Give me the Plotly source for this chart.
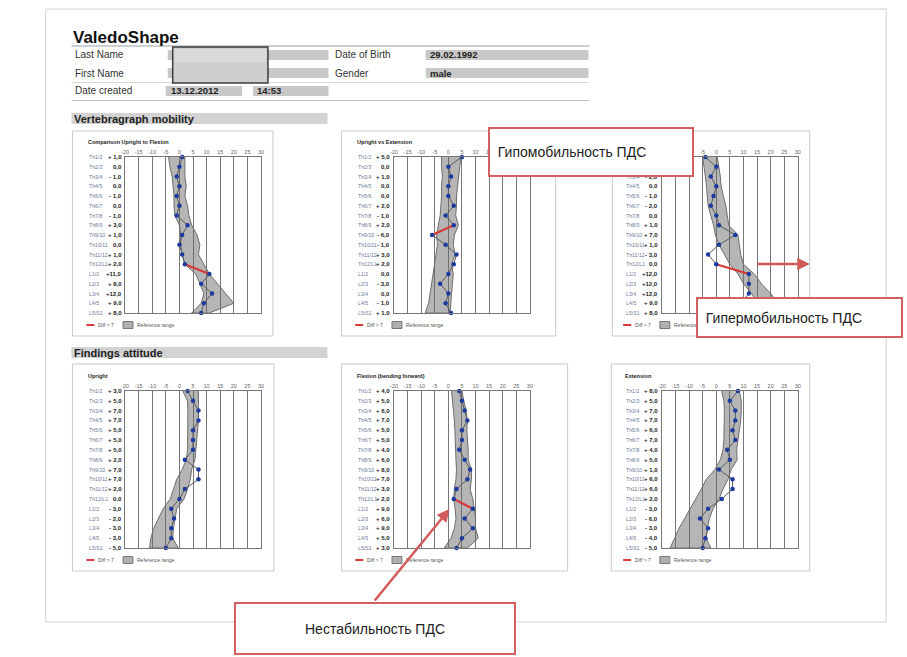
import plotly.graph_objects as go

W, H = 907, 657

# ---------------- data ----------------
SEGMENTS = ["Th1/2", "Th2/3", "Th3/4", "Th4/5", "Th5/6", "Th6/7", "Th7/8", "Th8/9",
            "Th9/10", "Th10/11", "Th11/12", "Th12/L1", "L1/2", "L2/3", "L3/4", "L4/5", "L5/S1"]
X_TICKS = [-20, -15, -10, -5, 0, 5, 10, 15, 20, 25, 30]
X_TICK_LABELS = ["-20", "-15", "-10", "-5", "0", "5", "10", "15", "20", "25", "30"]

CHART_TITLES = ["Comparison Upright to Flexion", "Upright vs Extension", "Flexion vs Extension",
                "Upright", "Flexion (bending forward)", "Extension"]

VALUES_1 = [1, 0, -1, 0, -1, 0, -1, 3, 1, 0, 1, 2, 11, 8, 12, 9, 8]
REF_LO_1 = [-4, -3.5, -2.7, -2.3, -2, -2, -1.7, 0, 0.5, 0.5, 1, 2, 6, 7.5, 9, 8, 4.5]
REF_HI_1 = [2, 2, 2, 2.5, 2, 3, 3.5, 4.5, 6.5, 7.5, 7, 9, 11, 14, 17, 20, 11]

VALUES_2 = [5, 0, 1, 0, 0, 2, -1, 2, -6, -1, 3, 2, 0, -3, 0, -1, 1]
REF_LO_2 = [-2.5, -2.5, -2.2, -2.5, -2.5, -2.7, -3, -3.7, -4.3, -4, -4.5, -5, -5.5, -6, -6.7, -7.3, -8.5]
REF_HI_2 = [4.6, 4.2, 3.7, 3.4, 3, 3, 2.7, 3.7, 2.2, 1.8, 2.5, 1.2, 1.8, 1.5, 1.2, 1, 0.6]

VALUES_3 = [-4, 0, -2, 0, -1, -2, 0, 1, 7, 1, -3, 0, 12, 12, 12, 9, 8]
REF_LO_3 = [-5, -4.4, -4, -3.6, -3.4, -3, -2, -1, -0.3, 1, 3, 5, 8, 10, 13, 15, 16]
REF_HI_3 = [0.4, 1, 1.5, 1.8, 2.6, 3.5, 4, 4.6, 8, 8.5, 9, 10, 14, 16.6, 20, 23, 22]

VALUES_4 = [3, 5, 7, 7, 5, 5, 5, 2, 7, 7, 2, 0, -3, -2, -3, -3, -5]
REF_LO_4 = [1.2, 3, 3.1, 3.1, 3, 3, 3, 2.5, 1, -1, -2.2, -3.4, -6, -7.7, -9.5, -10.5, -11]
REF_HI_4 = [7, 7, 7, 7, 6.7, 6.3, 6, 5.7, 4.5, 4, 3, 1.7, -1, -1.5, -2.2, -2.5, -0.4]

VALUES_5 = [4, 5, 6, 7, 5, 5, 4, 6, 8, 7, 3, 2, 9, 6, 9, 5, 3]
REF_LO_5 = [1.2, 1.6, 2, 2.2, 2.4, 2.5, 2.5, 2.8, 3, 2.8, 2.2, 2, 2.5, 2.8, 2.2, 1, -1.5]
REF_HI_5 = [5, 5.7, 6.5, 7, 6.8, 7, 7.3, 7.3, 8.5, 8.5, 8, 9, 9.5, 10, 10, 11, 7]

VALUES_6 = [8, 5, 7, 7, 6, 7, 4, 5, 1, 6, 6, 2, -3, -6, -3, -4, -5]
REF_LO_6 = [2, 2.8, 3, 3, 3, 2.8, 2.5, 1.5, -0.5, -3.7, -5.5, -7.5, -9.5, -11.6, -13.7, -15.3, -17]
REF_HI_6 = [8.5, 9.2, 9.2, 9, 8.5, 8, 7.5, 7.7, 5.5, 4.3, 2.5, 1, -1.2, -2.5, -3.3, -3.7, -2]

ALL_VALUES = [VALUES_1, VALUES_2, VALUES_3, VALUES_4, VALUES_5, VALUES_6]
ALL_LO = [REF_LO_1, REF_LO_2, REF_LO_3, REF_LO_4, REF_LO_5, REF_LO_6]
ALL_HI = [REF_HI_1, REF_HI_2, REF_HI_3, REF_HI_4, REF_HI_5, REF_HI_6]

DIFF_LIMIT = 7
LEGEND_LINE = "Diff > 7"
LEGEND_AREA = "Reference range"

REPORT_TITLE = "ValedoShape"
FIELD_LABELS = ["Last Name", "First Name", "Date created"]
FIELD_LABELS_R = ["Date of Birth", "Gender"]
FIELD_VALUES_R = ["29.02.1992", "male"]
DATE_CREATED = "13.12.2012"
TIME_CREATED = "14:53"
SECTIONS = ["Vertebragraph mobility", "Findings attitude"]
CALLOUT_HYPO = "Гипомобильность ПДС"
CALLOUT_HYPER = "Гипермобильность ПДС"
CALLOUT_INSTAB = "Нестабильность ПДС"

# ---------------- layout geometry (pixels) ----------------
PLOTS = [(122, 157, 259, 313), (393, 157, 530, 313), (663, 157, 800, 313),
         (122, 391, 259, 548), (393, 391, 530, 548), (663, 391, 800, 548)]
PANELS = [(69, 131, 271, 336), (340, 131, 556, 336), (613, 131, 812, 336),
          (69, 364, 272, 571), (340, 364, 568, 571), (612, 364, 812, 571)]

FONT = "Liberation Sans"


def fx(x):
    return x / W


def fy(y):
    return 1 - y / H


def value_text(v):
    s = "+" if v > 0 else ("-" if v < 0 else "")
    num = f"{abs(v):.1f}".replace(".", ",")
    if not s:
        return num
    return s + ("\u00a0" if abs(v) < 10 else "") + num


fig = go.Figure()
shapes = []
ann = []


def rect(x0, y0, x1, y1, fill=None, line=None, lw=1, layer="below"):
    shapes.append(dict(type="rect", xref="paper", yref="paper",
                       x0=fx(x0), x1=fx(x1), y0=fy(y1), y1=fy(y0),
                       fillcolor=fill if fill else "rgba(0,0,0,0)",
                       line=dict(color=line if line else "rgba(0,0,0,0)", width=lw if line else 0),
                       layer=layer))


def hline(x0, x1, y, color, lw=1, layer="below"):
    shapes.append(dict(type="line", xref="paper", yref="paper",
                       x0=fx(x0), x1=fx(x1), y0=fy(y), y1=fy(y),
                       line=dict(color=color, width=lw), layer=layer))


def text(x, y, s, size=10, color="#333", anchor="left", bold=False, family=FONT):
    ann.append(dict(xref="paper", yref="paper", x=fx(x), y=fy(y), text=f"<b>{s}</b>" if bold else s,
                    showarrow=False, xanchor=anchor, yanchor="middle",
                    font=dict(size=size, color=color, family=family)))


# page frame
rect(42, 9, 889, 622, line="#d2d2d2", lw=1)

# ---------------- header ----------------
text(68, 37, REPORT_TITLE, size=17, color="#111", bold=True)
hline(68, 590, 46, "#b9c0c8", 1.5)
hline(68, 590, 82.5, "#dadada", 1)
hline(68, 590, 100.5, "#c4c4c4", 1.2)
for i, lab in enumerate(FIELD_LABELS[:2]):
    yc = 55 + i * 18
    rect(165, yc - 5, 327, yc + 5, fill="#c8c8c8")
    text(70, yc, lab, size=10, color="#333")
    rect(425, yc - 5, 589, yc + 5, fill="#c8c8c8")
    text(332, yc, FIELD_LABELS_R[i], size=10, color="#333")
    text(427, yc, FIELD_VALUES_R[i], size=9.5, color="#222", bold=True)
rect(163, 86, 240, 96, fill="#c8c8c8")
rect(251, 86, 327, 96, fill="#c8c8c8")
text(70, 91, FIELD_LABELS[2], size=10, color="#333")
text(166, 91, DATE_CREATED, size=9.5, color="#222", bold=True)
text(253, 91, TIME_CREATED, size=9.5, color="#222", bold=True)
# redaction box
rect(170, 47, 266, 83, fill="#cfcfcf", line="#3c3c3c", lw=1.5)
rect(172, 49, 264, 62, fill="#dadada")

# section bars
for y, s in zip([118.5, 352.5], SECTIONS):
    rect(68, y - 5.5, 326, y + 5.5, fill="#d3d3d3")
    text(69, y, s, size=11, color="#222", bold=True)

# panels
for (x0, y0, x1, y1) in PANELS:
    rect(x0, y0, x1, y1, fill="#ffffff", line="#c9c9c9", lw=1)

# ---------------- charts ----------------
rows = list(range(len(SEGMENTS)))
layout_axes = {}
for k in range(6):
    n = "" if k == 0 else str(k + 1)
    xa, ya = "x" + n, "y" + n
    l, t, r, b = PLOTS[k]
    pw = r - l
    vals, lo, hi = ALL_VALUES[k], ALL_LO[k], ALL_HI[k]

    fig.add_trace(go.Scatter(x=lo + hi[::-1], y=rows + rows[::-1], fill="toself",
                             fillcolor="rgba(100,100,100,0.48)", mode="lines",
                             line=dict(color="#6e6e6e", width=1), xaxis=xa, yaxis=ya,
                             hoverinfo="skip", showlegend=False))
    fig.add_trace(go.Scatter(x=vals, y=rows, mode="lines", line=dict(color="#5a5a5a", width=1),
                             xaxis=xa, yaxis=ya, hoverinfo="skip", showlegend=False))
    for i in range(len(vals) - 1):
        if abs(vals[i + 1] - vals[i]) >= DIFF_LIMIT:
            fig.add_trace(go.Scatter(x=[vals[i], vals[i + 1]], y=[i, i + 1], mode="lines",
                                     line=dict(color="#d83a3a", width=2.2), xaxis=xa, yaxis=ya,
                                     hoverinfo="skip", showlegend=False))
    fig.add_trace(go.Scatter(x=vals, y=rows, mode="markers",
                             marker=dict(size=4.5, color="#1d3a9e"), cliponaxis=False,
                             xaxis=xa, yaxis=ya, showlegend=False))

    layout_axes["xaxis" + n] = dict(domain=[fx(l), fx(r)], range=[-20, 30], anchor=ya,
                                    tickvals=X_TICKS, ticktext=X_TICK_LABELS, side="top",
                                    showgrid=True, gridcolor="#777777", gridwidth=1,
                                    zeroline=False, showline=True, mirror=True,
                                    linecolor="#777777", linewidth=1, ticks="",
                                    tickfont=dict(size=5.5, color="#666", family=FONT),
                                    fixedrange=True)
    layout_axes["yaxis" + n] = dict(domain=[fy(b), fy(t)], range=[len(SEGMENTS) - 1, 0], anchor=xa,
                                    showgrid=False, zeroline=False, showline=True, mirror=True,
                                    linecolor="#777777", linewidth=1, showticklabels=False,
                                    ticks="", fixedrange=True)

    dref = xa + " domain"
    for i, seg in enumerate(SEGMENTS):
        ann.append(dict(xref=dref, yref=ya, x=-38 / pw, y=i, text=seg, showarrow=False,
                        xanchor="left", yanchor="middle",
                        font=dict(size=5.2, color="#6c7a98", family=FONT)))
        ann.append(dict(xref=dref, yref=ya, x=-1.5 / pw, y=i, text=f"<b>{value_text(vals[i])}</b>",
                        showarrow=False, xanchor="right", yanchor="middle",
                        font=dict(size=6, color="#222", family=FONT)))

    # chart title
    text(l - 39, t - 15, CHART_TITLES[k], size=5.5, color="#222", bold=True)
    # legend
    ly = b + 12
    hline(l - 39, l - 31, ly, "#d83a3a", 2, layer="above")
    text(l - 29, ly, LEGEND_LINE, size=5, color="#555")
    rect(l - 2, ly - 3.5, l + 8, ly + 3.5, fill="#b0b0b0", line="#777", lw=1)
    text(l + 10, ly, LEGEND_AREA, size=5, color="#555")

# ---------------- callouts ----------------
ann.append(dict(xref="paper", yref="paper", x=fx(449), y=fy(509), ax=373 - 449, ay=602 - 509,
                axref="pixel", ayref="pixel", text="", showarrow=True, arrowhead=2, arrowsize=1,
                arrowwidth=2.5, arrowcolor="#d25a5a", standoff=0))
ann.append(dict(xref="paper", yref="paper", x=fx(812), y=fy(264), ax=758 - 812, ay=0,
                text="", showarrow=True, arrowhead=2, arrowsize=1,
                arrowwidth=2.5, arrowcolor="#d25a5a", standoff=0))


def callout(x0, y0, x1, y1, s, align, pad):
    ann.append(dict(xref="paper", yref="paper", x=fx(x0), y=fy(y0), xanchor="left", yanchor="top",
                    width=x1 - x0 - 2, height=y1 - y0 - 2, text=("\u00a0" * pad) + s, align=align,
                    valign="middle", showarrow=False, bgcolor="#ffffff", bordercolor="#d35f5f",
                    borderwidth=2, borderpad=0, font=dict(size=14, color="#222", family=FONT)))


callout(488, 127, 692, 175, CALLOUT_HYPO, "left", 2)
callout(697, 297, 902, 336, CALLOUT_HYPER, "left", 2)
callout(232, 602, 512, 653, CALLOUT_INSTAB, "center", 0)

fig.update_layout(width=W, height=H, margin=dict(l=0, r=0, t=0, b=0, pad=0),
                  paper_bgcolor="#ffffff", plot_bgcolor="#ffffff",
                  showlegend=False, shapes=shapes, annotations=ann, **layout_axes)
fig.write_html("out.html", config={"displayModeBar": False},
               post_script="document.body.style.margin='0';document.body.style.padding='0';")
